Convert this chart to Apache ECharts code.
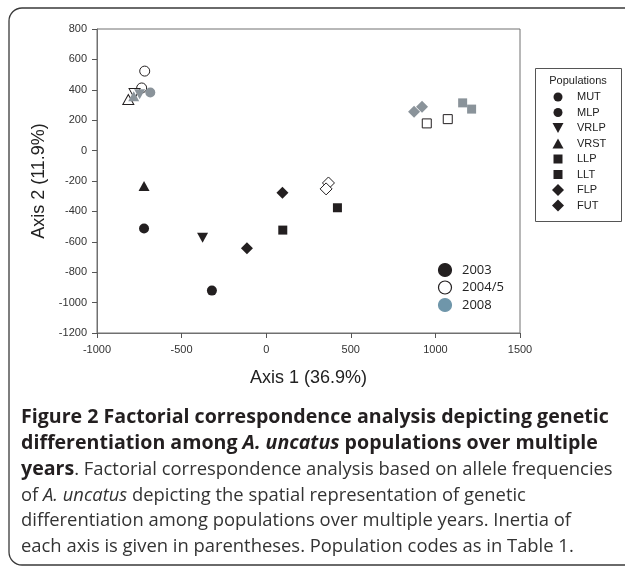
<!DOCTYPE html>
<html>
<head>
<meta charset="utf-8">
<script src="https://cdn.jsdelivr.net/npm/echarts@6/dist/echarts.min.js"></script>
<style>html,body{margin:0;padding:0;background:#fff;}#c{width:625px;height:570px;}</style>
</head>
<body>
<div id="c"></div>
<script>
// ---- data ----
const years = ['2003', '2004/5', '2008'];
const populations = ['MUT', 'MLP', 'VRLP', 'VRST', 'LLP', 'LLT', 'FLP', 'FUT'];
const popSymbols = ['circle', 'circle', 'triangleDown', 'triangle', 'rect', 'rect', 'diamond', 'diamond'];
// [axis1, axis2] per population, null = not plotted
const data2003 = [[-722, -513], [-321, -921], [-376, -573], [-722, -233], [98, -523], [421, -376], [-114, -642], [96, -278]];
const data2004 = [[-718, 523], [-736, 412], [-778, 375], [-815, 336], [949, 179], [1073, 207], [368, -213], [354, -252]];
const data2008 = [[-685, 382], null, [-748, 370], [-783, 357], [1161, 314], [1214, 273], [874, 255], [921, 288]];
const xTicks = [-1000, -500, 0, 500, 1000, 1500];
const yTicks = [-1200, -1000, -800, -600, -400, -200, 0, 200, 400, 600, 800];
const xTitle = 'Axis 1 (36.9%)';
const yTitle = 'Axis 2 (11.9%)';
const captionLines = [
  [['b', 'Figure 2 Factorial correspondence analysis depicting genetic']],
  [['b', 'differentiation among '], ['bi', 'A. uncatus'], ['b', ' populations over multiple']],
  [['b', 'years'], ['n', '. Factorial correspondence analysis based on allele frequencies']],
  [['n', 'of '], ['i', 'A. uncatus'], ['n', ' depicting the spatial representation of genetic']],
  [['n', 'differentiation among populations over multiple years. Inertia of']],
  [['n', 'each axis is given in parentheses. Population codes as in Table 1.']]
];

// ---- styles ----
const INK = '#231f20';
const GRAY = '#8a939a';
const yearStyles = [
  { color: INK, borderColor: INK, borderWidth: 0 },
  { color: '#ffffff', borderColor: INK, borderWidth: 1 },
  { color: GRAY, borderColor: GRAY, borderWidth: 0 }
];
const yearLegendColors = [
  { fill: INK, stroke: INK },
  { fill: '#ffffff', stroke: INK },
  { fill: '#6f96aa', stroke: '#6f96aa' }
];
function symbolSpec(s) {
  switch (s) {
    case 'circle': return { symbol: 'circle', symbolSize: 10, symbolRotate: 0 };
    case 'rect': return { symbol: 'rect', symbolSize: 9, symbolRotate: 0 };
    case 'triangle': return { symbol: 'triangle', symbolSize: [11, 10], symbolRotate: 0 };
    case 'triangleDown': return { symbol: 'triangle', symbolSize: [11, 10], symbolRotate: 180 };
    case 'diamond': return { symbol: 'diamond', symbolSize: [12, 12], symbolRotate: 0 };
  }
}
function makeSeries(yi, arr, z) {
  const items = [];
  arr.forEach((v, i) => {
    if (!v) return;
    const sp = symbolSpec(popSymbols[i]);
    items.push({ name: populations[i], value: v, symbol: sp.symbol, symbolSize: sp.symbolSize, symbolRotate: sp.symbolRotate });
  });
  return {
    type: 'scatter', name: years[yi], data: items, z: z,
    itemStyle: { color: yearStyles[yi].color, borderColor: yearStyles[yi].borderColor, borderWidth: yearStyles[yi].borderWidth, opacity: 1 },
    emphasis: { disabled: true }
  };
}

// ---- legend graphics ----
function legendShape(kind, cx, cy, fill, stroke, lw) {
  const st = { fill: fill, stroke: stroke, lineWidth: lw };
  if (kind === 'circle') return { type: 'circle', shape: { cx: cx, cy: cy, r: 4.5 }, style: st };
  if (kind === 'rect') return { type: 'rect', shape: { x: cx - 4.5, y: cy - 4.5, width: 9, height: 9 }, style: st };
  if (kind === 'triangle') return { type: 'polygon', shape: { points: [[cx, cy - 5], [cx + 5.5, cy + 5], [cx - 5.5, cy + 5]] }, style: st };
  if (kind === 'triangleDown') return { type: 'polygon', shape: { points: [[cx - 5.5, cy - 5], [cx + 5.5, cy - 5], [cx, cy + 5]] }, style: st };
  if (kind === 'diamond') return { type: 'polygon', shape: { points: [[cx, cy - 6], [cx + 6, cy], [cx, cy + 6], [cx - 6, cy]] }, style: st };
}
const graphics = [];
// outer frame
graphics.push({ type: 'rect', shape: { x: 9, y: 8, width: 650, height: 557, r: 13 }, style: { fill: 'none', stroke: '#3a3a3a', lineWidth: 1.3 }, z: 0 });
// populations legend
graphics.push({ type: 'rect', shape: { x: 535.5, y: 68.5, width: 86, height: 153 }, style: { fill: '#fff', stroke: '#555', lineWidth: 1 }, z: 10 });
graphics.push({ type: 'text', x: 578, y: 81, style: { text: 'Populations', font: '11px "Liberation Sans", Arial, sans-serif', fill: '#222', textAlign: 'center', textVerticalAlign: 'middle' }, z: 11 });
populations.forEach((p, i) => {
  const cy = 97 + i * 15.5;
  const g = legendShape(popSymbols[i], 558, cy, INK, INK, 0);
  g.z = 11;
  graphics.push(g);
  graphics.push({ type: 'text', x: 577, y: cy, style: { text: p, font: '11px "Liberation Sans", Arial, sans-serif', fill: '#222', textAlign: 'left', textVerticalAlign: 'middle' }, z: 11 });
});
// years legend
years.forEach((yname, i) => {
  const cy = 270 + i * 17.5;
  graphics.push({ type: 'circle', shape: { cx: 445, cy: cy, r: 6.5 }, style: { fill: yearLegendColors[i].fill, stroke: yearLegendColors[i].stroke, lineWidth: 1.2 }, z: 11 });
  graphics.push({ type: 'text', x: 462, y: cy, style: { text: yname, font: '13px "Open Sans", sans-serif', fill: '#222', textAlign: 'left', textVerticalAlign: 'middle' }, z: 11 });
});
// caption
const captionText = captionLines.map(line => line.map(seg => '{' + seg[0] + '|' + seg[1] + '}').join('')).join('\n');
const LH = 25.8;
const capBold = { fontFamily: '"Open Sans", sans-serif', fontSize: 19.6, lineHeight: LH, fill: INK, color: INK, fontWeight: 'bold' };
const capNorm = { fontFamily: '"Open Sans", sans-serif', fontSize: 18.4, lineHeight: LH, fill: '#333', color: '#333' };
graphics.push({
  type: 'text', x: 21, y: 405, z: 11,
  style: {
    text: captionText,
    font: '18.4px "Open Sans", sans-serif',
    fill: INK,
    lineHeight: LH,
    rich: {
      b: capBold,
      bi: Object.assign({}, capBold, { fontStyle: 'italic' }),
      n: capNorm,
      i: Object.assign({}, capNorm, { fontStyle: 'italic' })
    }
  }
});

const chart = echarts.init(document.getElementById('c'), null, { renderer: 'canvas' });
const axisFont = '"Liberation Sans", Arial, sans-serif';
chart.setOption({
  animation: false,
  backgroundColor: '#fff',
  grid: { left: 97, right: 105, top: 29, bottom: 237, show: true, borderColor: '#707070', borderWidth: 1, backgroundColor: 'transparent' },
  xAxis: {
    type: 'value', min: xTicks[0], max: xTicks[xTicks.length - 1], interval: xTicks[1] - xTicks[0],
    name: xTitle, nameLocation: 'middle', nameGap: 36,
    nameTextStyle: { fontFamily: axisFont, fontSize: 18, color: '#222' },
    axisLine: { show: true, onZero: false, lineStyle: { color: '#707070', width: 1 } },
    axisTick: { show: true, inside: false, length: 5, lineStyle: { color: '#555' } },
    axisLabel: { fontFamily: axisFont, fontSize: 11, color: '#333', margin: 11, formatter: v => String(v) },
    splitLine: { show: false }
  },
  yAxis: {
    type: 'value', min: yTicks[0], max: yTicks[yTicks.length - 1], interval: yTicks[1] - yTicks[0],
    name: yTitle, nameLocation: 'middle', nameGap: 43, nameRotate: 90,
    nameTextStyle: { fontFamily: axisFont, fontSize: 18, color: '#222' },
    axisLine: { show: true, onZero: false, lineStyle: { color: '#707070', width: 1 } },
    axisTick: { show: true, inside: false, length: 5, lineStyle: { color: '#555' } },
    axisLabel: { fontFamily: axisFont, fontSize: 11, color: '#333', margin: 10, formatter: v => String(v) },
    splitLine: { show: false }
  },
  series: [makeSeries(1, data2004, 2), makeSeries(2, data2008, 3), makeSeries(0, data2003, 4)],
  graphic: graphics
});
</script>
</body>
</html>
